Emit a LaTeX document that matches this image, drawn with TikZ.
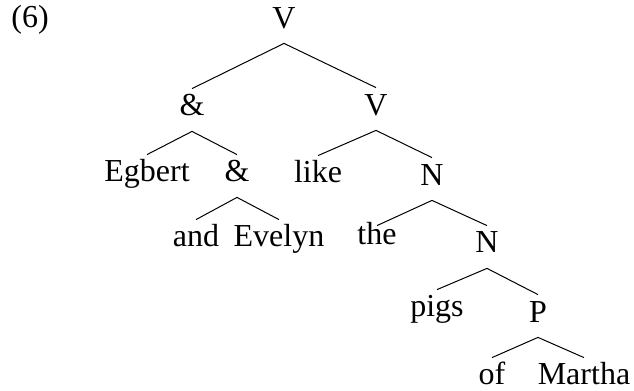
\documentclass[tikz,border=0pt]{standalone}
\usepackage{fontspec}
\setmainfont{Liberation Serif}
\begin{document}
\begin{tikzpicture}[x=0.5pt,y=-0.5pt,
    lab/.style={anchor=base,inner xsep=0pt,inner ysep=4pt,text height=9.5pt,text depth=3.5pt,font=\fontsize{16}{19}\selectfont},
    edge/.style={line width=0.5pt}]
    \useasboundingbox (0,0) rectangle (634,391);
    \node[lab,anchor=base west] (ex) at (11,27) {(6)};
    % categories
    \node[lab] (v0) at (284,28) {V};
    \node[lab] (amp1) at (192,116) {\&};  \node[lab] (v1) at (376,115) {V};
    \node[lab] (egbert) at (147,182) {Egbert}; \node[lab] (amp2) at (237,182) {\&};
    \node[lab] (like) at (318,183) {like}; \node[lab] (n1) at (432,185) {N};
    \node[lab] (and) at (196,247) {and}; \node[lab] (evelyn) at (279,247) {Evelyn};
    \node[lab] (the) at (377,245) {the}; \node[lab] (n2) at (487,253) {N};
    \node[lab] (pigs) at (437,317) {pigs}; \node[lab] (p) at (538,322) {P};
    \node[lab] (of) at (492,385) {of}; \node[lab] (martha) at (584,385) {Martha};
    % branches
    \draw[edge] (amp1.north) -- (v0.south) -- (v1.north);
    \draw[edge] (egbert.north) -- (amp1.south) -- (amp2.north);
    \draw[edge] (and.north) -- (amp2.south) -- (evelyn.north);
    \draw[edge] (like.north) -- (v1.south) -- (n1.north);
    \draw[edge] ([yshift=-4pt]the.north) -- (n1.south) -- (n2.north);
    \draw[edge] (pigs.north) -- (n2.south) -- (p.north);
    \draw[edge] (of.north) -- (p.south) -- (martha.north);
\end{tikzpicture}
\end{document}
